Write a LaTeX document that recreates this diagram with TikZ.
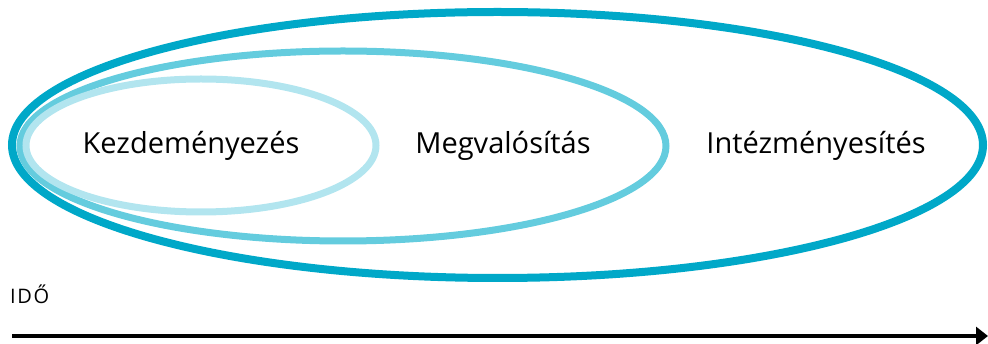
\documentclass[tikz,border=0pt]{standalone}
\usepackage{fontspec}
\setmainfont{Open Sans}
\usetikzlibrary{arrows.meta}
\definecolor{outerc}{HTML}{00A8C8}
\definecolor{midc}{HTML}{64CCDE}
\definecolor{innerc}{HTML}{B2E5EF}
\tikzset{
  ring/.style={line width=#1},
  lbl/.style={font=\fontsize{29}{34}\selectfont, text=black, inner sep=0pt}
}
\begin{document}
\begin{tikzpicture}[x=1pt,y=-1pt]
\useasboundingbox (0,0) rectangle (988,344);
\draw[ring=8pt, draw=outerc] (497.5,145) ellipse [x radius=485.5, y radius=133];
\draw[ring=7pt, draw=midc] (343,146) ellipse [x radius=323, y radius=95];
\draw[ring=7pt, draw=innerc] (201,145.5) ellipse [x radius=175, y radius=66.5];
\node[lbl] (k) at (191,146) {Kezdeményezés};
\node[lbl] (m) at (503,146) {Megvalósítás};
\node[lbl] (i) at (816,146) {Intézményesítés};
\node[font=\fontsize{20}{24}\selectfont\addfontfeatures{LetterSpace=8}, anchor=base west, inner sep=0pt] (ido) at (10,304) {IDŐ};
\coordinate (s) at (12,336);
\coordinate (e) at (988,336);
\draw[line width=4pt, -{Triangle[length=12pt,width=18pt]}] (s) -- (e);
\end{tikzpicture}
\end{document}
